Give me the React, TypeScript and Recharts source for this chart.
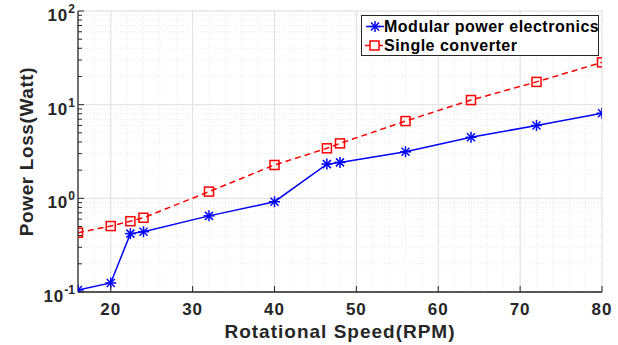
import React from "react"
import { LineChart, Line, XAxis, YAxis, CartesianGrid, Legend } from "recharts"

// rotational speed (RPM)
const SPEED = [16, 20, 22.4, 24, 32, 40, 46.4, 48, 56, 64, 72, 80]
// power loss (W)
const MODULAR = [0.105, 0.125, 0.42, 0.44, 0.65, 0.92, 2.32, 2.42, 3.14, 4.48, 6.0, 8.1]
const SINGLE = [0.43, 0.506, 0.57, 0.62, 1.18, 2.27, 3.42, 3.86, 6.68, 11.2, 17.5, 28.3]

const X_TICKS = [20, 30, 40, 50, 60, 70, 80]
const X_MINOR = [16, 18, 20, 22, 24, 26, 28, 30, 32, 34, 36, 38, 40, 42, 44, 46, 48, 50, 52, 54, 56, 58, 60, 62, 64, 66, 68, 70, 72, 74, 76, 78, 80]
const Y_DECADES = [0.1, 1, 10, 100]
const Y_EXP = ["-1", "0", "1", "2"]
const Y_TICKS = [
  0.1, 0.2, 0.3, 0.4, 0.5, 0.6, 0.7, 0.8, 0.9,
  1, 2, 3, 4, 5, 6, 7, 8, 9,
  10, 20, 30, 40, 50, 60, 70, 80, 90, 100,
]

const AXIS = "#262626"
const FONT = "'Liberation Sans', Arial, sans-serif"

const data = SPEED.map((s, i) => ({ speed: s, modular: MODULAR[i], single: SINGLE[i] }))

const LeftTick = ({ x, y, payload }: any) => {
  const i = Y_DECADES.indexOf(payload.value)
  if (i < 0) return <line x1={x} x2={x + 4} y1={y} y2={y} stroke={AXIS} />
  return (
    <g>
      <line x1={x} x2={x + 6} y1={y} y2={y} stroke={AXIS} />
      <text x={x - 3} y={y + 10} textAnchor="end" fill={AXIS} fontFamily={FONT}
        fontWeight="bold" fontSize={17} letterSpacing={1}>
        10<tspan dy={-8} fontSize={12} letterSpacing={0}>{Y_EXP[i]}</tspan>
      </text>
    </g>
  )
}

const RightTick = ({ x, y, payload }: any) => {
  const len = Y_DECADES.includes(payload.value) ? 6 : 4
  return <line x1={x} x2={x - len} y1={y} y2={y} stroke={AXIS} />
}

const BottomTick = ({ x, y, payload }: any) => (
  <g>
    <line x1={x} x2={x} y1={y} y2={y - 6} stroke={AXIS} />
    <text x={x} y={y + 23} textAnchor="middle" fill={AXIS} fontFamily={FONT}
      fontWeight="bold" fontSize={17} letterSpacing={1}>
      {payload.value}
    </text>
  </g>
)

const TopTick = ({ x, y }: any) => (
  <line x1={x} x2={x} y1={y} y2={y + 6} stroke={AXIS} />
)

const Star = ({ cx, cy, color = "#0000ff" }: any) => {
  if (cx == null || cy == null) return null
  return (
    <g stroke={color} strokeWidth={1.5}>
      <line x1={cx - 5.5} x2={cx + 5.5} y1={cy} y2={cy} />
      <line x1={cx} x2={cx} y1={cy - 5.5} y2={cy + 5.5} />
      <line x1={cx - 4} x2={cx + 4} y1={cy - 4} y2={cy + 4} />
      <line x1={cx - 4} x2={cx + 4} y1={cy + 4} y2={cy - 4} />
    </g>
  )
}

const Square = ({ cx, cy }: any) => {
  if (cx == null || cy == null) return null
  return <rect x={cx - 4.5} y={cy - 4.5} width={9} height={9} fill="none" stroke="#ff0000" strokeWidth={1.5} />
}

const LegendBox = ({ payload }: any) => (
  <div style={{
    width: 238, height: 41, boxSizing: "border-box", border: `1px solid ${AXIS}`,
    background: "#fff", fontFamily: FONT, fontWeight: "bold", fontSize: 16,
    letterSpacing: 0.5, color: "#000", paddingTop: 1, whiteSpace: "nowrap", overflow: "hidden",
  }}>
    {(payload || []).map((p: any) => (
      <div key={p.value} style={{ display: "flex", alignItems: "center", height: 19 }}>
        <svg width={22} height={19} style={{ flex: "none" }}>
          {p.dataKey === "modular" ? (
            <>
              <line x1={4} x2={22} y1={9.5} y2={9.5} stroke="#0000ff" strokeWidth={1.5} />
              <Star cx={13} cy={9.5} />
            </>
          ) : (
            <>
              <line x1={3} x2={21} y1={9.5} y2={9.5} stroke="#ff0000" strokeWidth={1.5} />
              <rect x={8} y={5} width={9} height={9} fill="#fff" stroke="#ff0000" strokeWidth={1.5} />
            </>
          )}
        </svg>
        <span>{p.value}</span>
      </div>
    ))}
  </div>
)

const YLabel = ({ viewBox }: any) => {
  const cy = viewBox.y + viewBox.height / 2
  return (
    <text x={33} y={cy} transform={`rotate(-90, 33, ${cy})`} textAnchor="middle" fill={AXIS}
      fontFamily={FONT} fontWeight="bold" fontSize={19} letterSpacing={0.6}>
      Power Loss(Watt)
    </text>
  )
}

export default function App() {
  return (
    <div style={{ position: "absolute", left: 0, top: 0, background: "#fff" }}>
      <LineChart width={618} height={345} data={data} margin={{ top: 11, right: 16, bottom: 0, left: 0 }}>
        <CartesianGrid horizontalValues={Y_TICKS} verticalValues={X_MINOR} stroke="#e8e8e8" strokeDasharray="1 2" />
        <CartesianGrid horizontalValues={Y_DECADES} verticalValues={X_TICKS} stroke="#e0e0e0" />
        <XAxis dataKey="speed" type="number" domain={[16, 80]} ticks={X_TICKS} interval={0}
          allowDataOverflow height={53} tickSize={0} tickMargin={0} tick={<BottomTick />}
          axisLine={{ stroke: AXIS, strokeWidth: 1.3 }}
          label={{ value: "Rotational Speed(RPM)", position: "insideBottom", offset: 7,
            style: { fill: AXIS, fontFamily: FONT, fontWeight: "bold", fontSize: 19, letterSpacing: 1 } }} />
        <XAxis xAxisId="top" orientation="top" dataKey="speed" type="number" domain={[16, 80]}
          ticks={X_TICKS} interval={0} allowDataOverflow height={0} tickSize={0} tickMargin={0}
          tick={<TopTick />} axisLine={{ stroke: AXIS, strokeWidth: 1.3 }} />
        <YAxis scale="log" type="number" domain={[0.1, 100]} ticks={Y_TICKS} interval={0}
          allowDataOverflow width={78} tickSize={0} tickMargin={0} tick={<LeftTick />}
          axisLine={{ stroke: AXIS, strokeWidth: 1.3 }} label={<YLabel />} />
        <YAxis yAxisId="right" orientation="right" scale="log" type="number" domain={[0.1, 100]}
          ticks={Y_TICKS} interval={0} allowDataOverflow width={0} tickSize={0} tickMargin={0}
          tick={<RightTick />} axisLine={{ stroke: AXIS, strokeWidth: 1.3 }} />
        <Legend layout="vertical" align="center" verticalAlign="middle" content={<LegendBox />}
          wrapperStyle={{ left: 361, top: 15, width: 238, height: 41 }} />
        <Line dataKey="modular" name="Modular power electronics" stroke="#0000ff" strokeWidth={1.5}
          dot={<Star />} activeDot={false} isAnimationActive={false} />
        <Line dataKey="single" name="Single converter" stroke="#ff0000" strokeWidth={1.5}
          strokeDasharray="6 4" dot={<Square />} activeDot={false} isAnimationActive={false} />
      </LineChart>
    </div>
  )
}
